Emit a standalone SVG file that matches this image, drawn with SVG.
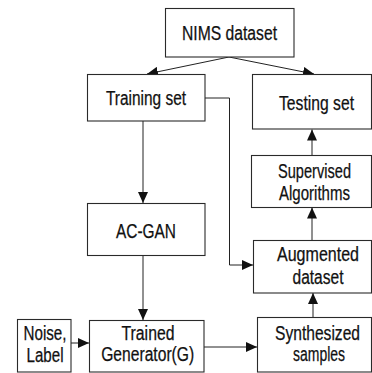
<svg xmlns="http://www.w3.org/2000/svg" width="372" height="373" viewBox="0 0 372 373">
  <style>
    .box { fill: #ffffff; stroke: #2a2a2a; stroke-width: 1.1; }
    .lbl { font-family: "Liberation Sans", Arial, sans-serif; font-size: 19.5px; fill: #111111; stroke: #111111; stroke-width: 0.25; text-anchor: middle; }
    .edge { fill: none; stroke: #222222; stroke-width: 1; marker-end: url(#arrow); }
  </style>
  <defs>
    <marker id="arrow" markerUnits="userSpaceOnUse" markerWidth="12" markerHeight="10" refX="11" refY="5" orient="auto">
      <path d="M0,0 L11,5 L0,10 Z" fill="#111111"/>
    </marker>
  </defs>
  <rect width="372" height="373" fill="#ffffff"/>

  <g id="connectors">
    <line class="edge" x1="229" y1="57" x2="147" y2="74"/>
    <line class="edge" x1="229" y1="57" x2="314" y2="74"/>
    <line class="edge" x1="143" y1="121" x2="143" y2="203"/>
    <path class="edge" d="M205,98 H229.5 V265 H253"/>
    <line class="edge" x1="312" y1="155" x2="312" y2="129.5"/>
    <line class="edge" x1="312" y1="240" x2="312" y2="207.5"/>
    <line class="edge" x1="143" y1="256" x2="143" y2="320"/>
    <line class="edge" x1="71" y1="343" x2="89" y2="343"/>
    <line class="edge" x1="204" y1="347" x2="257" y2="347"/>
    <line class="edge" x1="313" y1="317" x2="313" y2="293"/>
  </g>

  <g id="nims">
    <rect class="box" x="165.5" y="8.5" width="128.5" height="48.5"/>
    <text class="lbl" x="229.5" y="40" textLength="95" lengthAdjust="spacingAndGlyphs">NIMS dataset</text>
  </g>
  <g id="training">
    <rect class="box" x="87.5" y="74.5" width="117.5" height="46.5"/>
    <text class="lbl" x="146" y="104.5" textLength="80" lengthAdjust="spacingAndGlyphs">Training set</text>
  </g>
  <g id="testing">
    <rect class="box" x="252.5" y="74.5" width="119" height="54.5"/>
    <text class="lbl" x="316.5" y="110" textLength="75" lengthAdjust="spacingAndGlyphs">Testing set</text>
  </g>
  <g id="supervised">
    <rect class="box" x="251.5" y="155.5" width="120" height="52"/>
    <text class="lbl" x="314.5" y="177.5" textLength="73" lengthAdjust="spacingAndGlyphs">Supervised</text>
    <text class="lbl" x="314.5" y="200" textLength="71" lengthAdjust="spacingAndGlyphs">Algorithms</text>
  </g>
  <g id="acgan">
    <rect class="box" x="87.5" y="203.5" width="117.5" height="52"/>
    <text class="lbl" x="146" y="237.5" textLength="60" lengthAdjust="spacingAndGlyphs">AC-GAN</text>
  </g>
  <g id="augmented">
    <rect class="box" x="253.5" y="240.5" width="118" height="52.5"/>
    <text class="lbl" x="318" y="261" textLength="82" lengthAdjust="spacingAndGlyphs">Augmented</text>
    <text class="lbl" x="318" y="283.5" textLength="51" lengthAdjust="spacingAndGlyphs">dataset</text>
  </g>
  <g id="noise">
    <rect class="box" x="17.5" y="319.5" width="53.5" height="52.5"/>
    <text class="lbl" x="45" y="340" textLength="43" lengthAdjust="spacingAndGlyphs">Noise,</text>
    <text class="lbl" x="45" y="361.5" textLength="37" lengthAdjust="spacingAndGlyphs">Label</text>
  </g>
  <g id="generator">
    <rect class="box" x="89.5" y="320.5" width="114.5" height="51.5"/>
    <text class="lbl" x="148" y="340" textLength="53" lengthAdjust="spacingAndGlyphs">Trained</text>
    <text class="lbl" x="147.7" y="360.5" textLength="93" lengthAdjust="spacingAndGlyphs">Generator(G)</text>
  </g>
  <g id="synthesized">
    <rect class="box" x="257.5" y="317.5" width="114" height="54.5"/>
    <text class="lbl" x="317.5" y="340" textLength="85" lengthAdjust="spacingAndGlyphs">Synthesized</text>
    <text class="lbl" x="319" y="360.5" textLength="52" lengthAdjust="spacingAndGlyphs">samples</text>
  </g>
</svg>
